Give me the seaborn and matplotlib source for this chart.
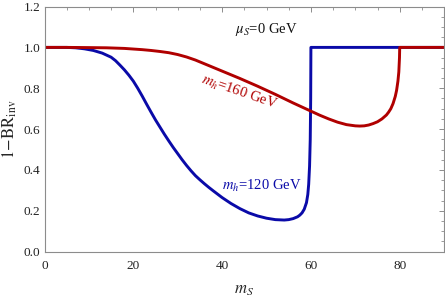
import matplotlib
matplotlib.use("Agg")
import matplotlib.pyplot as plt
import seaborn as sns
import pandas as pd
from matplotlib.ticker import MultipleLocator

# m_h = 120 GeV curve
blue_x = [0, 5, 7, 9, 11, 13, 15, 16, 17, 18, 19, 20, 21, 22, 23, 24, 25, 26,
          27, 28, 29, 30, 31, 32, 33, 34, 35, 36, 37, 38, 40, 42, 44, 46, 48,
          50, 52, 54, 55, 56, 57, 57.5, 58, 58.5, 59, 59.3, 59.5, 59.7, 59.85,
          59.95, 60, 90]
blue_y = [1.0, 1.0, 0.998, 0.993, 0.985, 0.972, 0.952, 0.935, 0.913, 0.89,
          0.864, 0.835, 0.80, 0.762, 0.722, 0.683, 0.645, 0.61, 0.575, 0.542,
          0.51, 0.48, 0.45, 0.422, 0.396, 0.372, 0.352, 0.333, 0.315, 0.298,
          0.265, 0.236, 0.211, 0.19, 0.175, 0.164, 0.157, 0.155, 0.157, 0.162,
          0.171, 0.179, 0.19, 0.208, 0.24, 0.28, 0.33, 0.42, 0.55, 0.75, 1.0,
          1.0]

# m_h = 160 GeV curve
red_x = [0, 5, 10, 14, 18, 20, 22, 24, 26, 28, 30, 32, 34, 36, 38, 40, 42, 44,
         46, 48, 50, 52, 54, 56, 58, 60, 62, 64, 66, 68, 70, 71, 72, 73, 74,
         75, 76, 77, 77.5, 78, 78.5, 79, 79.3, 79.6, 79.8, 79.95, 80, 90]
red_y = [1.0, 1.0, 0.999, 0.998, 0.995, 0.992, 0.989, 0.985, 0.98, 0.974,
         0.965, 0.953, 0.938, 0.92, 0.902, 0.884, 0.866, 0.848, 0.829, 0.81,
         0.79, 0.77, 0.749, 0.728, 0.708, 0.688, 0.668, 0.65, 0.634, 0.622,
         0.616, 0.615, 0.616, 0.62, 0.627, 0.636, 0.65, 0.669, 0.683, 0.70,
         0.725, 0.76, 0.79, 0.835, 0.88, 0.95, 1.0, 1.0]

BLUE = "#0a0aa8"
RED = "#b00000"

sns.set_style("white")
plt.rcParams["font.family"] = ["Liberation Serif", "DejaVu Serif"]
plt.rcParams["mathtext.fontset"] = "stix"

fig = plt.figure(figsize=(4.45, 2.97), dpi=100)
ax = fig.add_axes([0.1, 0.1525, 0.898, 0.8255])

df_b = pd.DataFrame({"x": blue_x, "y": blue_y})
df_r = pd.DataFrame({"x": red_x, "y": red_y})
sns.lineplot(data=df_b, x="x", y="y", ax=ax, color=BLUE, lw=2.1,
             sort=False, estimator=None, solid_joinstyle="round")
sns.lineplot(data=df_r, x="x", y="y", ax=ax, color=RED, lw=2.1,
             sort=False, estimator=None, solid_joinstyle="round")

ax.set_xlim(0, 90)
ax.set_ylim(0, 1.2)
ax.xaxis.set_major_locator(MultipleLocator(20))
ax.xaxis.set_minor_locator(MultipleLocator(5))
ax.yaxis.set_major_locator(MultipleLocator(0.2))
ax.yaxis.set_minor_locator(MultipleLocator(0.05))
ax.yaxis.set_major_formatter(plt.FuncFormatter(lambda v, p: f"{v:.1f}"))

for s in ax.spines.values():
    s.set_color("#8c8c8c")
    s.set_linewidth(0.8)
ax.tick_params(which="both", direction="in", top=True, right=True,
               color="#8c8c8c", labelsize=9.5, labelcolor="#222222")
ax.tick_params(which="major", length=3.5, width=0.7)
ax.tick_params(which="minor", length=2, width=0.6)
ax.tick_params(axis="x", which="major", pad=6)
ax.tick_params(axis="y", which="major", pad=3)

ax.set_xlabel(r"$m_S$", fontsize=12, labelpad=7)
ax.set_ylabel(r"$1\!-\!\mathrm{BR}_{\mathrm{inv}}$", fontsize=12, labelpad=3)

ax.text(49.9, 1.086, r"$\mu_S$=0 GeV", ha="center", va="center",
        fontsize=10.5, color="#111111")
ax.text(43.8, 0.78, r"$m_h$=160 GeV", ha="center", va="center",
        fontsize=10.5, color=RED, rotation=-19)
ax.text(48.9, 0.322, r"$m_h$=120 GeV", ha="center", va="center",
        fontsize=10.5, color=BLUE)

fig.savefig("out.png", dpi=100)
